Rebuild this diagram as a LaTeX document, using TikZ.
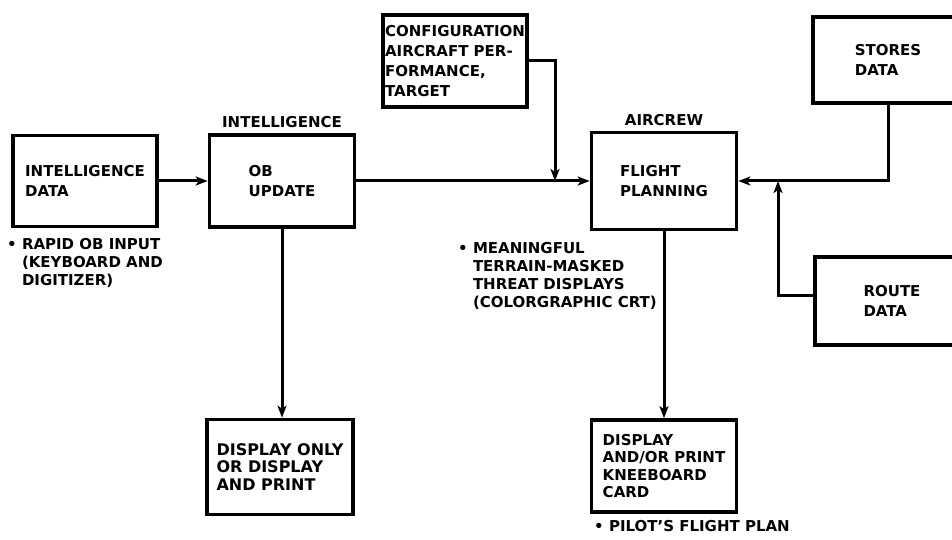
\documentclass[tikz,border=0pt]{standalone}
\usepackage{fontspec}
\setmainfont{DejaVu Sans}
\usetikzlibrary{arrows.meta,positioning}

\begin{document}
\begin{tikzpicture}[
    x=1pt, y=-1pt,
    every node/.style={font=\bfseries\fontsize{15}{20}\selectfont},
    box/.style={rectangle, draw, line width=3.6pt, align=left, minimum width=145pt, minimum height=92pt},
    heading/.style={inner sep=0pt},
    note/.style={inner sep=0pt, anchor=north west, align=left, font=\bfseries\fontsize{15}{18}\selectfont},
    flow/.style={line width=3pt,->,>={Stealth[length=12pt,width=9pt,inset=3pt]}}
]
\clip (0,0) rectangle (952,540);

% Boxes
\node[box, minimum width=144pt, minimum height=91pt] (inteldata) at (85,181) {INTELLIGENCE\\DATA};
\node[box] (obupdate) at (282,181) {OB\\UPDATE};
\node[box, minimum width=144pt, inner xsep=1pt] (config) at (455,61) {CONFIGURATION\\AIRCRAFT PER-\\FORMANCE,\\TARGET};
\node[box, minimum height=97pt] (planning) at (664,181) {FLIGHT\\PLANNING};
\node[box, minimum width=150pt, minimum height=86pt] (stores) at (888,60) {STORES\\DATA};
\node[box, minimum width=154pt, minimum height=88pt] (route) at (892,301) {ROUTE\\DATA};
\node[box, minimum width=146pt, minimum height=95pt, font=\bfseries\fontsize{16}{17.5}\selectfont] (dispprint) at (280,467) {DISPLAY ONLY\\OR DISPLAY\\AND PRINT};
\node[box, font=\bfseries\fontsize{15}{17.5}\selectfont] (kneecard) at (664,466) {DISPLAY\\AND/OR PRINT\\KNEEBOARD\\CARD};

% Headings
\node[heading, above=5pt of obupdate] (intelhead) {INTELLIGENCE};
\node[heading, above=5pt of planning] (crewhead) {AIRCREW};

% Notes
\node[note] (rapidnote) at (7,238) {\textbullet\ RAPID OB INPUT\\\hphantom{\textbullet\ }(KEYBOARD AND\\\hphantom{\textbullet\ }DIGITIZER)};
\node[note] (threatnote) at (458,242) {\textbullet\ MEANINGFUL\\\hphantom{\textbullet\ }TERRAIN-MASKED\\\hphantom{\textbullet\ }THREAT DISPLAYS\\\hphantom{\textbullet\ }(COLORGRAPHIC CRT)};
\node[note] (pilotnote) at (594,520) {\textbullet\ PILOT'S FLIGHT PLAN};

% Connections
\coordinate (cfgjoin) at (555,181);
\coordinate (routejoin) at (778,181);
\draw[flow] (inteldata) -- (inteldata -| obupdate.west);
\draw[flow] (obupdate) -- (planning);
\draw[flow] (config.east) -| (cfgjoin);
\draw[flow] (stores.south) |- (planning.east);
\draw[flow] ([yshift=6pt]route.west) -| (routejoin);
\draw[flow] (obupdate) -- (obupdate |- dispprint.north);
\draw[flow] (planning) -- (planning |- kneecard.north);

\end{tikzpicture}
\end{document}
